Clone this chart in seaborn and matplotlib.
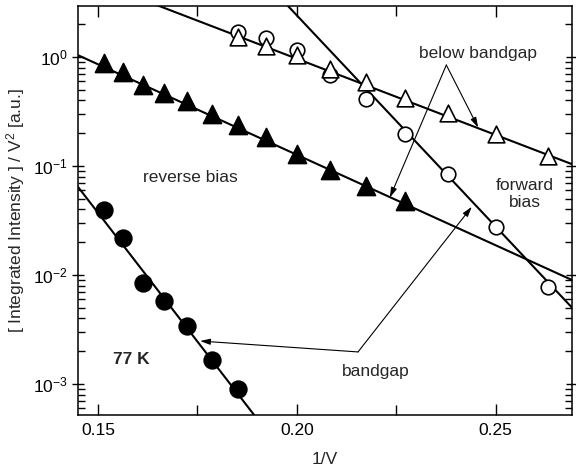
import numpy as np
import pandas as pd
import matplotlib
matplotlib.use("Agg")
import matplotlib.pyplot as plt
import seaborn as sns
from matplotlib.ticker import LogLocator, MultipleLocator, LogFormatterSciNotation

# ---------------- data ----------------
# reverse bias, below bandgap (filled triangles)
rev_below_x = [1/6.6, 1/6.4, 1/6.2, 1/6.0, 1/5.8, 1/5.6, 1/5.4, 1/5.2, 1/5.0, 1/4.8, 1/4.6, 1/4.4]
rev_below_y = [0.875, 0.724, 0.553, 0.470, 0.395, 0.300, 0.238, 0.183, 0.128, 0.0919, 0.0656, 0.0481]
# reverse bias, bandgap (filled circles)
rev_gap_x = [1/6.6, 1/6.4, 1/6.2, 1/6.0, 1/5.8, 1/5.6, 1/5.4]
rev_gap_y = [0.0395, 0.0220, 0.00839, 0.00577, 0.00340, 0.00166, 0.000899]
# forward bias, below bandgap (open triangles)
fwd_below_x = [1/5.4, 1/5.2, 1/5.0, 1/4.8, 1/4.6, 1/4.4, 1/4.2, 1/4.0, 1/3.8]
fwd_below_y = [1.52, 1.27, 1.04, 0.776, 0.586, 0.421, 0.304, 0.197, 0.124]
# forward bias, bandgap (open circles)
fwd_gap_x = [1/5.4, 1/5.2, 1/5.0, 1/4.8, 1/4.6, 1/4.4, 1/4.2, 1/4.0, 1/3.8]
fwd_gap_y = [1.71, 1.49, 1.16, 0.684, 0.412, 0.197, 0.0839, 0.0277, 0.00781]

# straight fit lines (end points)
fit_rev_below_x = [0.145, 0.2692]
fit_rev_below_y = [1.04, 0.0090]
fit_rev_gap_x = [0.140, 0.195]
fit_rev_gap_y = [0.111, 0.000279]
fit_fwd_below_x = [0.165, 0.2692]
fit_fwd_below_y = [2.98, 0.104]
fit_fwd_gap_x = [0.1978, 0.2692]
fit_fwd_gap_y = [2.94, 0.00502]

x_ticks = [0.15, 0.20, 0.25]
x_tick_labels = ["0.15", "0.20", "0.25"]

# ---------------- style ----------------
sns.set_theme(style="ticks")
plt.rcParams['font.family'] = ['Liberation Sans', 'DejaVu Sans']
plt.rcParams['mathtext.fontset'] = 'custom'
plt.rcParams['mathtext.rm'] = 'Liberation Sans'
plt.rcParams['mathtext.it'] = 'Liberation Sans:italic'
plt.rcParams['mathtext.bf'] = 'Liberation Sans:bold'

FS = 12.5
fig = plt.figure(figsize=(5.76, 4.72), dpi=100)
ax = fig.add_axes([0.1354, 0.1208, 0.8577, 0.8665])

def fitline(xs, ys):
    df = pd.DataFrame({"x": xs, "y": ys})
    sns.lineplot(data=df, x="x", y="y", ax=ax, color="black", lw=1.5,
                 estimator=None, sort=False, zorder=2)

fitline(fit_rev_below_x, fit_rev_below_y)
fitline(fit_rev_gap_x, fit_rev_gap_y)
fitline(fit_fwd_below_x, fit_fwd_below_y)
fitline(fit_fwd_gap_x, fit_fwd_gap_y)

def pts(xs, ys, marker, size, face, z):
    df = pd.DataFrame({"x": xs, "y": ys})
    sns.scatterplot(data=df, x="x", y="y", ax=ax, marker=marker, s=size**2,
                    facecolor=face, edgecolor="black", linewidth=1.2, zorder=z)

pts(rev_below_x, rev_below_y, "^", 13, "black", 4)
pts(rev_gap_x, rev_gap_y, "o", 12, "black", 4)
pts(fwd_gap_x, fwd_gap_y, "o", 10.5, "white", 3)
pts(fwd_below_x, fwd_below_y, "^", 12, "white", 4)

ax.set_yscale("log")
ax.set_xlim(0.145, 0.2692)
ax.set_ylim(5.2e-4, 2.94)

ax.set_xticks(x_ticks)
ax.set_xticklabels(x_tick_labels)
ax.xaxis.set_minor_locator(MultipleLocator(0.025))
ax.yaxis.set_major_locator(LogLocator(base=10, numticks=10))
ax.yaxis.set_minor_locator(LogLocator(base=10, subs=np.arange(2, 10), numticks=20))
ax.yaxis.set_major_formatter(LogFormatterSciNotation())

ax.tick_params(axis="both", which="both", top=True, right=True, labelsize=FS,
               width=1.0, color="black", labelcolor="black")
ax.tick_params(axis="x", which="major", direction="in", length=8, pad=6)
ax.tick_params(axis="x", which="minor", direction="in", length=7)
ax.tick_params(axis="y", which="major", direction="inout", length=9, pad=3)
ax.tick_params(axis="y", which="minor", direction="in", length=5)
for sp in ax.spines.values():
    sp.set_linewidth(1.1)
    sp.set_color("black")

ax.set_xlabel("1/V", fontsize=FS, labelpad=10)
ax.set_ylabel("[ Integrated Intensity ] / V$^2$ [a.u.]", fontsize=FS, labelpad=4)

# texts
ax.text(0.1733, 0.0793, "reverse bias", fontsize=FS, ha="center", va="center")
ax.text(0.2574, 0.0553, "forward\nbias", fontsize=FS, ha="center", va="center",
        linespacing=1.1)
ax.text(0.1584, 0.001686, "77 K", fontsize=FS, ha="center", va="center",
        fontweight="bold")
ax.text(0.2456, 1.08, "below bandgap", fontsize=FS, ha="center", va="center")
ax.text(0.2199, 0.00129, "bandgap", fontsize=FS, ha="center", va="center")

arrow = dict(arrowstyle="-|>,head_length=0.5,head_width=0.15", color="black",
             lw=0.8, shrinkA=0, shrinkB=0)
# below bandgap arrows
ax.annotate("", xy=(0.2234, 0.0514), xytext=(0.2376, 0.845), arrowprops=arrow)
ax.annotate("", xy=(0.2456, 0.2255), xytext=(0.2376, 0.845), arrowprops=arrow)
# bandgap arrows
ax.annotate("", xy=(0.1757, 0.00248), xytext=(0.2154, 0.00197), arrowprops=arrow)
ax.annotate("", xy=(0.2440, 0.0423), xytext=(0.2154, 0.00197), arrowprops=arrow)

fig.savefig("out.png", dpi=100)
